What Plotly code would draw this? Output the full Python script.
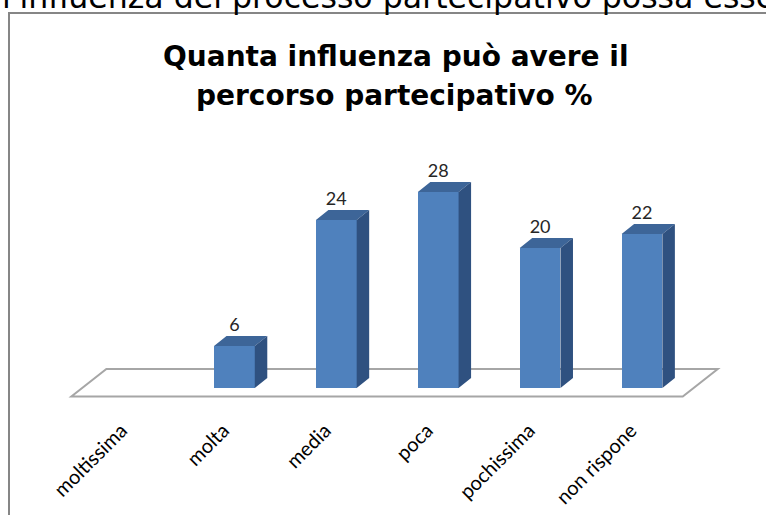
import plotly.graph_objects as go

# ---- data ----
categories = ["moltissima", "molta", "media", "poca", "pochissima", "non rispone"]
values = [0, 6, 24, 28, 20, 22]
title_lines = ["Quanta influenza può avere il", "percorso partecipativo %"]
header_text = "l'influenza del processo partecipativo possa essere"

# ---- layout geometry (pixels) ----
W, H = 766, 515
ML, MR = 10, 2
MT, MB = 140, 115
PX_PER_CAT = 101.9
X0_PX = 132.5   # pixel of first category
Y0_PX = 388.0   # pixel of value 0
PX_PER_UNIT = 7.0

pw = W - ML - MR
ph = H - MT - MB
xr0 = -(X0_PX - ML) / PX_PER_CAT
xr1 = xr0 + pw / PX_PER_CAT
yr0 = -((H - MB) - Y0_PX) / PX_PER_UNIT
yr1 = yr0 + ph / PX_PER_UNIT


def pxx(p):
    return (p - ML) / pw


def pxy(p):
    return (H - MB - p) / ph


BAR_W = 0.4
DX = 12.5 / PX_PER_CAT      # depth offset in x (category units)
DY = 10.0 / PX_PER_UNIT     # depth offset in y (value units)

FRONT = "#4F81BD"
TOP = "#3D6598"
SIDE = "#2F5180"

fig = go.Figure()

# front faces
xs = list(range(len(categories)))
fig.add_trace(go.Bar(x=xs, y=values, width=BAR_W, marker=dict(color=FRONT, line=dict(width=0)),
                     hoverinfo="skip", showlegend=False))

# top and side faces
tx, ty, sx, sy = [], [], [], []
for i, v in zip(xs, values):
    if v <= 0:
        continue
    l, r = i - BAR_W / 2, i + BAR_W / 2
    tx += [l, r, r + DX, l + DX, l, None]
    ty += [v, v, v + DY, v + DY, v, None]
    sx += [r, r + DX, r + DX, r, r, None]
    sy += [0, DY, v + DY, v, 0, None]
fig.add_trace(go.Scatter(x=tx, y=ty, mode="lines", fill="toself", fillcolor=TOP,
                         line=dict(width=0, color=TOP), hoverinfo="skip", showlegend=False))
fig.add_trace(go.Scatter(x=sx, y=sy, mode="lines", fill="toself", fillcolor=SIDE,
                         line=dict(width=0, color=SIDE), hoverinfo="skip", showlegend=False))

# value labels
lx = [i + 0.0 for i, v in zip(xs, values) if v > 0]
ly = [v + DY + 0.1 for v in values if v > 0]
lt = [str(v) for v in values if v > 0]
fig.add_trace(go.Scatter(x=lx, y=ly, mode="text", text=lt, textposition="top center",
                         textfont=dict(family="Lato", size=18, color="#262626"),
                         hoverinfo="skip", showlegend=False))

# floor (3D base plane)
n = len(categories)
f_front = -8.5 / PX_PER_UNIT
f_back = 19.0 / PX_PER_UNIT
f_l = -0.6
f_r = n - 1 + 0.4
f_dx = 35.0 / PX_PER_CAT
floor_path = (f"M {f_l},{f_front} L {f_r},{f_front} L {f_r + f_dx},{f_back} "
              f"L {f_l + f_dx},{f_back} Z")

shapes = [
    dict(type="path", xref="x", yref="y", path=floor_path, layer="below",
         line=dict(color="#A6A6A6", width=2), fillcolor="white"),
    dict(type="rect", xref="paper", yref="paper", x0=pxx(9), x1=pxx(820),
         y0=pxy(600), y1=pxy(13), line=dict(color="#868686", width=2),
         fillcolor="rgba(0,0,0,0)", layer="below"),
]

annotations = [
    dict(text=header_text, xref="paper", yref="paper", x=pxx(0), y=pxy(17),
         xanchor="left", yanchor="bottom", showarrow=False,
         font=dict(family="DejaVu Sans", size=31.6, color="#000000")),
    dict(text="<b>" + title_lines[0] + "</b>", xref="paper", yref="paper", x=pxx(396), y=pxy(56),
         xanchor="center", yanchor="middle", showarrow=False,
         font=dict(family="DejaVu Sans", size=28, color="#000000")),
    dict(text="<b>" + title_lines[1] + "</b>", xref="paper", yref="paper", x=pxx(394), y=pxy(96),
         xanchor="center", yanchor="middle", showarrow=False,
         font=dict(family="DejaVu Sans", size=28, color="#000000")),
]

fig.update_layout(
    width=W, height=H,
    margin=dict(l=ML, r=MR, t=MT, b=MB, pad=0),
    paper_bgcolor="white", plot_bgcolor="rgba(0,0,0,0)",
    xaxis=dict(range=[xr0, xr1], tickmode="array", tickvals=xs, ticktext=categories,
               tickangle=-45, tickfont=dict(family="Lato", size=20, color="#000000"),
               ticklabelshift=-11, ticklabelstandoff=14,
               showgrid=False, zeroline=False, showline=False, ticks="", fixedrange=True),
    yaxis=dict(range=[yr0, yr1], visible=False, fixedrange=True),
    shapes=shapes, annotations=annotations,
    bargap=0, showlegend=False,
)

fig.write_html("out.html", config={"displayModeBar": False},
               post_script="document.body.style.margin='0px';document.body.style.overflow='hidden';")
